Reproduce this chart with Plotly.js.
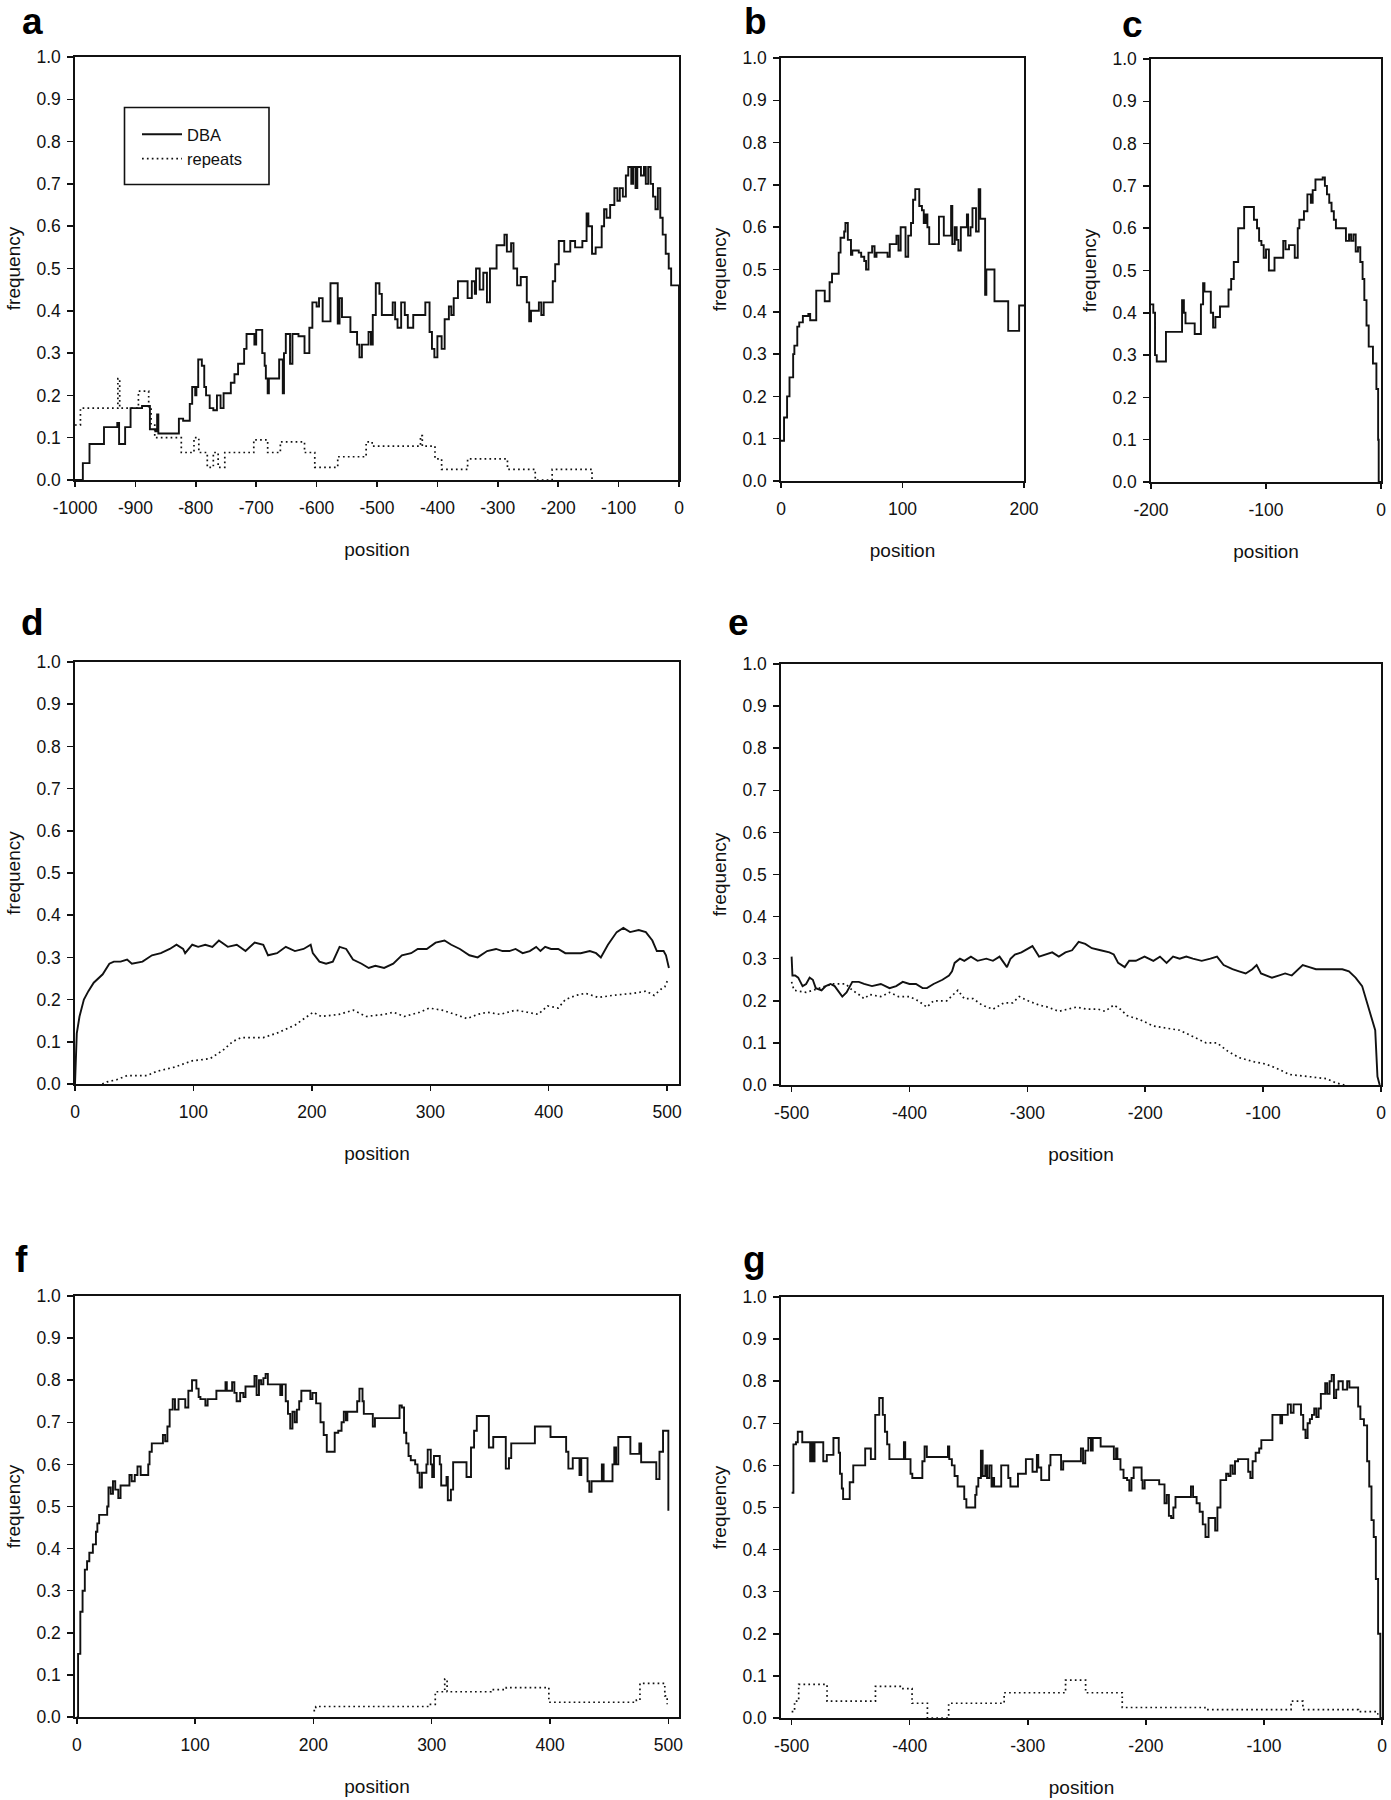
<!DOCTYPE html>
<html>
<head>
<meta charset="utf-8">
<script src="https://cdn.plot.ly/plotly-3.0.1.min.js"></script>
<style>
  html, body { margin: 0; padding: 0; background: #ffffff; }
  #chart { width: 1391px; height: 1800px; }
</style>
</head>
<body>
<div id="chart"></div>
<script>
// ---------------- DATA ----------------
// Each series: [position, frequency] pairs.

// Panel a: positions -1000..0
const aDBA = [[-1000,0],[-987,0.04],[-976,0.085],[-952,0.125],[-930,0.135],[-927,0.085],[-917,0.125],[-908,0.17],[-889,0.175],[-876,0.12],[-867,0.115],[-864,0.155],[-862,0.11],[-828,0.145],[-821,0.14],[-810,0.18],[-806,0.22],[-801,0.2],[-799,0.22],[-796,0.285],[-790,0.27],[-786,0.22],[-783,0.2],[-777,0.17],[-771,0.165],[-765,0.2],[-759,0.17],[-754,0.205],[-742,0.23],[-736,0.25],[-730,0.275],[-720,0.31],[-716,0.345],[-703,0.32],[-700,0.355],[-690,0.3],[-686,0.27],[-684,0.24],[-681,0.205],[-679,0.24],[-662,0.285],[-656,0.205],[-654,0.3],[-651,0.345],[-644,0.275],[-640,0.345],[-630,0.34],[-620,0.3],[-612,0.36],[-607,0.42],[-600,0.41],[-596,0.43],[-590,0.375],[-584,0.375],[-577,0.465],[-565,0.37],[-562,0.43],[-558,0.385],[-550,0.385],[-544,0.35],[-533,0.32],[-529,0.29],[-525,0.32],[-514,0.35],[-510,0.32],[-507,0.39],[-502,0.465],[-496,0.44],[-492,0.39],[-474,0.42],[-470,0.38],[-466,0.36],[-460,0.42],[-454,0.39],[-449,0.36],[-440,0.39],[-428,0.39],[-420,0.42],[-413,0.35],[-409,0.31],[-405,0.29],[-400,0.34],[-393,0.31],[-388,0.38],[-381,0.41],[-377,0.39],[-373,0.43],[-366,0.47],[-350,0.43],[-343,0.47],[-338,0.44],[-336,0.5],[-330,0.45],[-324,0.49],[-318,0.42],[-313,0.5],[-302,0.555],[-289,0.58],[-285,0.54],[-278,0.56],[-274,0.5],[-268,0.46],[-262,0.48],[-252,0.42],[-248,0.375],[-245,0.4],[-232,0.42],[-228,0.39],[-224,0.42],[-209,0.47],[-205,0.51],[-199,0.565],[-190,0.54],[-180,0.565],[-172,0.55],[-160,0.565],[-153,0.63],[-150,0.6],[-144,0.535],[-138,0.55],[-128,0.6],[-124,0.64],[-120,0.62],[-114,0.65],[-107,0.69],[-102,0.66],[-98,0.69],[-93,0.67],[-88,0.72],[-84,0.74],[-79,0.7],[-76,0.74],[-72,0.69],[-69,0.74],[-63,0.72],[-58,0.74],[-55,0.7],[-51,0.74],[-47,0.7],[-43,0.67],[-39,0.64],[-35,0.69],[-31,0.62],[-27,0.58],[-22,0.535],[-17,0.5],[-13,0.46],[-1,0.46],[0,0]];
const aRepeats = [[-1000,0.13],[-991,0.17],[-929,0.24],[-926,0.17],[-895,0.21],[-878,0.17],[-874,0.13],[-868,0.1],[-824,0.065],[-803,0.1],[-795,0.065],[-781,0.03],[-771,0.065],[-763,0.03],[-752,0.065],[-704,0.095],[-681,0.065],[-660,0.09],[-620,0.065],[-603,0.03],[-565,0.055],[-518,0.09],[-508,0.08],[-428,0.105],[-425,0.08],[-404,0.05],[-393,0.025],[-350,0.05],[-284,0.025],[-238,0],[-210,0.025],[-144,0]];

// Panel b: positions 0..200
const bDBA = [[0,0.095],[2.5,0.15],[5,0.2],[7,0.245],[10,0.3],[11,0.32],[13.4,0.365],[15,0.375],[18,0.39],[22.5,0.395],[24,0.38],[27,0.38],[29,0.45],[34,0.45],[36,0.425],[39,0.425],[40,0.47],[42,0.49],[47.5,0.54],[49,0.575],[52,0.59],[53,0.61],[55,0.57],[57.6,0.535],[58.7,0.545],[64,0.54],[66,0.53],[68.5,0.52],[70,0.5],[72,0.54],[75,0.555],[77,0.53],[78.6,0.54],[87.7,0.53],[89.5,0.56],[95,0.58],[96.7,0.545],[98.5,0.6],[101.5,0.6],[102.5,0.53],[104.7,0.58],[107,0.61],[108.7,0.665],[110.5,0.69],[113.8,0.65],[116,0.64],[117.5,0.61],[119,0.63],[120.5,0.6],[122,0.56],[130,0.625],[134,0.58],[140,0.65],[141,0.56],[143,0.6],[144.6,0.57],[146,0.545],[148,0.6],[153,0.63],[154,0.58],[156,0.6],[157.6,0.645],[160.5,0.59],[162.7,0.69],[164,0.62],[168,0.44],[169,0.5],[175.7,0.425],[187,0.355],[196,0.415],[200,0.415]];

// Panel c: positions -200..0
const cDBA = [[-200,0.42],[-198,0.4],[-196.5,0.3],[-195,0.285],[-187,0.355],[-173,0.43],[-171.4,0.4],[-170,0.375],[-162,0.35],[-156.6,0.42],[-154.7,0.47],[-153.5,0.45],[-148,0.4],[-146,0.365],[-144,0.39],[-140,0.415],[-132.6,0.455],[-130.3,0.48],[-128,0.52],[-124.2,0.6],[-119,0.65],[-110.5,0.62],[-107.8,0.6],[-106,0.57],[-104,0.56],[-102,0.53],[-100,0.55],[-97.5,0.5],[-92.6,0.53],[-85,0.57],[-83,0.55],[-80,0.56],[-75,0.53],[-72.4,0.6],[-71,0.62],[-67,0.64],[-64,0.68],[-61,0.66],[-59.4,0.69],[-57,0.715],[-50.7,0.72],[-48.8,0.7],[-47,0.68],[-45,0.66],[-43,0.64],[-41,0.62],[-39.2,0.6],[-30.5,0.57],[-27.8,0.585],[-26,0.57],[-24,0.585],[-22,0.545],[-20,0.555],[-18,0.52],[-16,0.48],[-14.5,0.43],[-12.6,0.37],[-10.7,0.32],[-7,0.28],[-4,0.22],[-2.5,0.1],[-2,0],[0,0]];

// Panel d: positions 0..500
const dDBA = [[0,0],[1.5,0.12],[3.8,0.16],[7.5,0.2],[11.3,0.22],[15.8,0.24],[23.4,0.26],[29,0.285],[32.8,0.29],[38.5,0.29],[44,0.295],[48,0.285],[57,0.29],[65,0.305],[72.5,0.31],[80,0.32],[85.7,0.33],[91.3,0.32],[93,0.31],[99,0.33],[104,0.325],[110,0.33],[116,0.325],[121.5,0.34],[129,0.325],[136.6,0.33],[144,0.315],[151.7,0.335],[159,0.33],[163,0.305],[170.6,0.31],[178,0.325],[185.7,0.315],[193,0.32],[199,0.33],[200.8,0.31],[206.4,0.29],[212,0.285],[217.7,0.29],[223.4,0.325],[229,0.32],[234.7,0.295],[242,0.285],[248,0.275],[253.6,0.28],[261,0.275],[268.7,0.285],[276,0.305],[283.8,0.31],[289.4,0.32],[297,0.32],[304.5,0.335],[312,0.34],[317.7,0.33],[325,0.32],[333,0.305],[340,0.3],[348,0.315],[355.5,0.32],[361,0.315],[366.8,0.315],[372,0.32],[378,0.31],[384,0.315],[389.4,0.325],[393,0.315],[397,0.325],[402,0.32],[408,0.32],[414,0.31],[419.6,0.31],[427,0.31],[434.7,0.315],[440,0.31],[444,0.3],[450,0.33],[457.4,0.36],[463,0.37],[468.7,0.36],[476,0.365],[482,0.36],[487.5,0.34],[491.3,0.315],[497,0.315],[499,0.305],[501.5,0.275]];
const dRepeats = [[23,0],[27,0.005],[35,0.01],[44,0.02],[61,0.02],[69,0.03],[84,0.04],[99,0.055],[114,0.06],[125,0.08],[133,0.1],[140,0.11],[159,0.11],[170,0.12],[186,0.14],[201,0.17],[208,0.16],[223,0.165],[235,0.175],[246,0.16],[261,0.165],[269,0.17],[278,0.16],[291,0.17],[299,0.18],[310,0.175],[321,0.165],[331,0.155],[340,0.165],[348,0.17],[359,0.165],[372,0.175],[382,0.17],[391,0.165],[399,0.185],[408,0.18],[414,0.2],[423,0.21],[431,0.215],[442,0.205],[454,0.21],[472,0.215],[482,0.22],[489,0.21],[495,0.225],[498,0.23],[501,0.25]];

// Panel e: positions -500..0
const eDBA = [[-500,0.305],[-499.3,0.26],[-497,0.26],[-494.4,0.255],[-490.7,0.235],[-487.7,0.24],[-484.7,0.255],[-482,0.25],[-479.5,0.23],[-474.6,0.225],[-471,0.235],[-467,0.24],[-463.5,0.235],[-459.7,0.22],[-457,0.21],[-453.4,0.22],[-448.5,0.245],[-443,0.245],[-438.5,0.24],[-431.8,0.235],[-424.3,0.24],[-416.9,0.23],[-411.3,0.235],[-405.7,0.245],[-400,0.24],[-394.5,0.24],[-388.9,0.23],[-385.2,0.23],[-379.6,0.24],[-372,0.25],[-366.5,0.26],[-363.9,0.27],[-361.7,0.29],[-357.2,0.3],[-353.5,0.295],[-347.9,0.305],[-342.3,0.295],[-334.8,0.3],[-329.2,0.295],[-323.6,0.305],[-319.9,0.29],[-317.3,0.28],[-314.3,0.3],[-310.6,0.31],[-305,0.315],[-299.4,0.325],[-295.7,0.33],[-290.1,0.305],[-284.5,0.31],[-278.9,0.315],[-273.3,0.305],[-267.7,0.315],[-262.1,0.32],[-256.5,0.34],[-250.9,0.335],[-245.3,0.325],[-237.9,0.32],[-230.4,0.315],[-226.7,0.31],[-223,0.29],[-217.4,0.28],[-213.6,0.295],[-208,0.295],[-200.6,0.305],[-193.1,0.295],[-187.5,0.305],[-181.9,0.29],[-176.4,0.305],[-170.8,0.3],[-165.2,0.305],[-159.6,0.3],[-152.1,0.295],[-144.7,0.3],[-139.1,0.305],[-133.5,0.285],[-126,0.275],[-120.4,0.27],[-114.8,0.265],[-109.2,0.275],[-105.5,0.285],[-101.8,0.265],[-96.2,0.26],[-92.5,0.255],[-86.9,0.26],[-81.3,0.265],[-75.7,0.26],[-70.1,0.275],[-66.4,0.285],[-60.8,0.28],[-55.2,0.275],[-47.7,0.275],[-40.3,0.275],[-32.8,0.275],[-27.2,0.27],[-21.6,0.255],[-16,0.235],[-12.3,0.2],[-8.6,0.17],[-4.9,0.13],[-3,0.02],[-1.1,0]];
const eRepeats = [[-500,0.245],[-498,0.225],[-487.7,0.22],[-476.5,0.23],[-465.3,0.24],[-454.1,0.24],[-448.5,0.225],[-443,0.215],[-438.5,0.205],[-433.6,0.215],[-424.3,0.21],[-416.9,0.22],[-409.4,0.21],[-400,0.21],[-392.6,0.2],[-385.2,0.185],[-379.6,0.2],[-368.4,0.2],[-359,0.225],[-353.5,0.205],[-346,0.205],[-338.6,0.19],[-329.2,0.18],[-320,0.195],[-312.5,0.195],[-306.9,0.21],[-299.4,0.2],[-290.1,0.19],[-282.6,0.185],[-273.3,0.175],[-265.8,0.18],[-258.4,0.185],[-249.1,0.18],[-239.7,0.18],[-234.2,0.175],[-226.7,0.19],[-221.1,0.18],[-215.5,0.165],[-204.3,0.155],[-193.1,0.14],[-181.9,0.135],[-170.8,0.13],[-159.6,0.115],[-148.4,0.1],[-139.1,0.1],[-129.8,0.08],[-120.4,0.065],[-107.4,0.055],[-98.1,0.05],[-88.7,0.04],[-77.6,0.025],[-62.6,0.02],[-45.9,0.015],[-38.4,0.005],[-31,0]];

// Panel f: positions 0..500
const fDBA = [[0,0],[1.1,0.15],[3,0.25],[4.9,0.3],[6.8,0.35],[8.7,0.37],[10.6,0.39],[13.6,0.41],[16.2,0.44],[17.4,0.46],[18.9,0.48],[25.7,0.5],[26.8,0.545],[28.7,0.53],[30.6,0.56],[32.5,0.54],[35.1,0.52],[37,0.55],[44.5,0.575],[46.4,0.56],[49,0.575],[51.3,0.595],[54,0.575],[60.4,0.6],[61.5,0.63],[63.4,0.65],[72.8,0.67],[74.7,0.655],[76.6,0.69],[78.5,0.73],[81.1,0.755],[83,0.73],[86,0.755],[91.7,0.735],[94.3,0.775],[97.4,0.8],[101.1,0.78],[103,0.76],[104.5,0.755],[108.7,0.74],[110.6,0.755],[118,0.775],[125.7,0.795],[126.8,0.775],[131.3,0.795],[133.2,0.77],[135.1,0.75],[138.1,0.77],[140.8,0.76],[142.6,0.785],[150.2,0.81],[152,0.765],[154,0.8],[155.8,0.79],[157.7,0.805],[159.6,0.815],[161.5,0.79],[172,0.765],[173.6,0.79],[176.6,0.75],[178.5,0.72],[180.4,0.685],[182.3,0.725],[184.2,0.7],[186,0.73],[188,0.75],[189.8,0.775],[197.4,0.755],[199.2,0.77],[202.3,0.745],[206,0.7],[208.7,0.67],[211.3,0.63],[218,0.675],[221,0.68],[223.8,0.7],[225.7,0.725],[227.5,0.705],[228.7,0.725],[237,0.75],[238.9,0.78],[241.5,0.75],[242.6,0.72],[250.2,0.69],[252,0.71],[272.8,0.74],[274.7,0.735],[276.6,0.675],[278.5,0.65],[280.4,0.62],[282.3,0.61],[286,0.6],[288,0.58],[289.8,0.545],[291.7,0.58],[295.5,0.6],[296.6,0.635],[299.2,0.6],[300.4,0.57],[301.9,0.62],[306.8,0.6],[308,0.55],[312.5,0.57],[313.6,0.515],[316.2,0.54],[318.1,0.605],[329.4,0.57],[333.2,0.64],[335.8,0.68],[338.1,0.715],[348.3,0.64],[352,0.665],[362.6,0.59],[365.3,0.615],[367.2,0.65],[387.2,0.69],[400.4,0.665],[413.6,0.63],[415.5,0.59],[419.2,0.615],[424.9,0.575],[426.4,0.615],[431.7,0.56],[433.2,0.535],[435.1,0.56],[443.8,0.6],[445.3,0.56],[452.8,0.6],[454.3,0.64],[455.8,0.6],[457.7,0.665],[467.9,0.625],[475.5,0.65],[477,0.605],[489.8,0.565],[492.5,0.63],[495.5,0.68],[500,0.49]];
const fRepeats = [[200,0.015],[202,0.025],[298,0.03],[303,0.06],[311,0.09],[313,0.06],[350,0.065],[363,0.07],[399,0.035],[473,0.04],[476,0.08],[497,0.05],[499,0.03]];

// Panel g: positions -500..0
const gDBA = [[-500,0.535],[-498.5,0.65],[-496.3,0.655],[-494.8,0.68],[-491,0.655],[-484.3,0.61],[-483.2,0.655],[-482,0.61],[-480.6,0.655],[-473.2,0.61],[-470.2,0.625],[-464.6,0.665],[-460.1,0.63],[-459,0.58],[-457.5,0.545],[-456.4,0.52],[-450.8,0.56],[-447.8,0.6],[-437.7,0.64],[-432.9,0.615],[-429.2,0.72],[-425.8,0.76],[-422.8,0.72],[-421,0.68],[-419.1,0.65],[-417.2,0.615],[-404.9,0.655],[-403.8,0.615],[-399.3,0.58],[-397.8,0.57],[-389.3,0.61],[-387.4,0.645],[-385.5,0.62],[-367.6,0.645],[-366.5,0.615],[-364.3,0.6],[-362,0.575],[-359.4,0.55],[-353.8,0.52],[-352,0.5],[-344.5,0.53],[-343.4,0.55],[-341.9,0.57],[-339.7,0.635],[-338.2,0.575],[-336,0.6],[-334.5,0.57],[-332.6,0.6],[-330.7,0.55],[-329.6,0.57],[-328.5,0.55],[-322.5,0.6],[-316.5,0.57],[-314.7,0.55],[-308.3,0.58],[-301.6,0.615],[-296,0.585],[-292.3,0.625],[-291.1,0.595],[-288.6,0.565],[-281.9,0.6],[-280.8,0.625],[-271.8,0.59],[-270,0.61],[-255,0.64],[-253.2,0.605],[-251.3,0.635],[-248.7,0.665],[-246.5,0.635],[-245,0.665],[-238.3,0.645],[-227.1,0.615],[-225.2,0.64],[-224.1,0.615],[-221.5,0.59],[-218.9,0.57],[-215.9,0.565],[-214,0.54],[-212.2,0.57],[-210.3,0.595],[-203.6,0.565],[-202.8,0.545],[-201,0.565],[-188.7,0.555],[-184.2,0.51],[-182.3,0.53],[-180.5,0.48],[-178.6,0.475],[-176.7,0.5],[-174.9,0.525],[-161.8,0.55],[-160,0.525],[-157,0.51],[-154.4,0.49],[-151.8,0.46],[-149.5,0.43],[-146.9,0.475],[-141.3,0.445],[-139.4,0.5],[-136.8,0.565],[-132,0.58],[-130.1,0.575],[-128.3,0.6],[-126.4,0.58],[-124.5,0.61],[-121.9,0.615],[-113.3,0.585],[-111.5,0.57],[-109.6,0.61],[-107,0.63],[-104,0.64],[-102.2,0.66],[-92.8,0.72],[-86.1,0.7],[-84.6,0.72],[-79.8,0.745],[-77.2,0.725],[-74.9,0.745],[-68.6,0.72],[-66.7,0.685],[-64.8,0.665],[-63,0.7],[-61.1,0.71],[-59.3,0.72],[-57.4,0.735],[-55.6,0.715],[-53.7,0.735],[-51.8,0.77],[-48.1,0.795],[-46.4,0.77],[-44.4,0.8],[-42.6,0.815],[-40.7,0.76],[-38.8,0.78],[-36.9,0.8],[-33.2,0.78],[-29.5,0.8],[-27.6,0.785],[-20.2,0.74],[-18.3,0.71],[-15.3,0.695],[-12.6,0.61],[-10.8,0.55],[-8.9,0.47],[-7,0.43],[-5.2,0.33],[-3.3,0.2],[-1.4,0],[0,0]];
const gRepeats = [[-500,0.015],[-497.5,0.04],[-494,0.08],[-470,0.04],[-429,0.075],[-408,0.07],[-398,0.035],[-385,0],[-367,0.035],[-320,0.06],[-268,0.09],[-251,0.06],[-220,0.025],[-150,0.02],[-77,0.04],[-67,0.02],[-20,0.015],[-5,0.01],[-3,0.01]];

// Tick labels
const yTicks = [0,0.1,0.2,0.3,0.4,0.5,0.6,0.7,0.8,0.9,1.0];
const ticksA = [-1000,-900,-800,-700,-600,-500,-400,-300,-200,-100,0];
const ticksB = [0,100,200];
const ticksC = [-200,-100,0];
const ticksPos500 = [0,100,200,300,400,500];
const ticksNeg500 = [-500,-400,-300,-200,-100,0];
const panelLetters = ['a','b','c','d','e','f','g'];
const seriesNames = ['DBA','repeats'];
const xTitle = 'position';
const yTitle = 'frequency';

// ---------------- LAYOUT ----------------
const W = 1391, H = 1800;
const FONT = 'Liberation Sans, Arial, Helvetica, sans-serif';
const INK = '#111111';
const px = v => v / W;          // horizontal pixel -> paper
const py = v => 1 - v / H;      // vertical pixel (from top) -> paper

const col = (arr, i) => arr.map(p => p[i]);

// panel boxes in pixels: [left, right, top, bottom], x range, ticks
const panels = [
  {box:[75, 679, 57, 480],    xr:[-1000, 0],  ticks:ticksA,      shape:'hv'},
  {box:[781, 1024, 58, 481],  xr:[0, 200],    ticks:ticksB,      shape:'hv'},
  {box:[1151, 1381, 59, 482], xr:[-200, 0],   ticks:ticksC,      shape:'hv'},
  {box:[75, 679, 662, 1084],  xr:[0, 510],    ticks:ticksPos500, shape:'linear'},
  {box:[781, 1381, 664, 1085],xr:[-509, 0],   ticks:ticksNeg500, shape:'linear'},
  {box:[75, 679, 1296, 1717], xr:[-1.5, 509], ticks:ticksPos500, shape:'hv'},
  {box:[781, 1382, 1297, 1718],xr:[-509, 0],  ticks:ticksNeg500, shape:'hv'}
];
const panelSeries = [
  [aDBA, aRepeats], [bDBA, null], [cDBA, null],
  [dDBA, dRepeats], [eDBA, eRepeats], [fDBA, fRepeats], [gDBA, gRepeats]
];
// panel letter positions: [left px, baseline px]; top row anchored to top edge
const letterPos = [[21,null],[743,null],[1121,3],[20,635],[727,635],[14,1272],[742,1272]];

const axisCommon = {
  showline: true, linecolor: INK, linewidth: 1.7, mirror: true,
  ticks: 'outside', ticklen: 6, tickwidth: 1.5, tickcolor: INK,
  showgrid: false, zeroline: false, fixedrange: true,
  tickfont: {family: FONT, size: 17.5, color: INK}
};

const traces = [];
const layout = {
  width: W, height: H,
  margin: {l: 0, r: 0, t: 0, b: 0},
  paper_bgcolor: '#ffffff', plot_bgcolor: '#ffffff',
  showlegend: true,
  hovermode: false,
  font: {family: FONT, color: INK},
  legend: {
    x: px(137), y: py(117), xanchor: 'left', yanchor: 'top',
    bgcolor: 'rgba(0,0,0,0)', borderwidth: 0,
    font: {family: FONT, size: 16.5, color: INK},
    itemwidth: 40, tracegroupgap: 0
  },
  shapes: [
    {type: 'rect', xref: 'paper', yref: 'paper',
     x0: px(124.5), x1: px(269), y0: py(184.5), y1: py(107.5),
     line: {color: INK, width: 1.6}, fillcolor: 'rgba(0,0,0,0)'}
  ],
  annotations: []
};

panels.forEach((p, i) => {
  const n = i === 0 ? '' : String(i + 1);
  const [l, r, t, b] = p.box;
  layout['xaxis' + n] = Object.assign({}, axisCommon, {
    domain: [px(l), px(r)], range: p.xr, anchor: 'y' + n,
    tickmode: 'array', tickvals: p.ticks, ticktext: p.ticks.map(String),
    ticklen: 5, ticklabelstandoff: 6,
    title: {text: xTitle, font: {family: FONT, size: 19, color: INK}, standoff: 26}
  });
  layout['yaxis' + n] = Object.assign({}, axisCommon, {
    domain: [py(b), py(t)], range: [0, 1], anchor: 'x' + n,
    tickmode: 'array', tickvals: yTicks, ticktext: yTicks.map(v => v.toFixed(1)),
    ticklabelstandoff: 3,
    title: {text: yTitle, font: {family: FONT, size: 19, color: INK}, standoff: 11}
  });
  const [dba, rep] = panelSeries[i];
  traces.push({
    type: 'scatter', mode: 'lines', name: seriesNames[0],
    x: col(dba, 0), y: col(dba, 1), xaxis: 'x' + n, yaxis: 'y' + n,
    line: {color: INK, width: 1.9, shape: p.shape},
    showlegend: i === 0, legendrank: 1
  });
  if (rep) {
    traces.push({
      type: 'scatter', mode: 'lines', name: seriesNames[1],
      x: col(rep, 0), y: col(rep, 1), xaxis: 'x' + n, yaxis: 'y' + n,
      line: {color: INK, width: 1.7, dash: '1.7px,3.2px', shape: p.shape === 'linear' ? 'linear' : 'hv'},
      showlegend: i === 0, legendrank: 2
    });
  }
  const [lx, base] = letterPos[i];
  const ann = {
    xref: 'paper', yref: 'paper', x: px(lx),
    xanchor: 'left', showarrow: false, borderpad: 0,
    text: panelLetters[i],
    font: {family: FONT, size: 37, color: '#000000', weight: 'bold'}
  };
  if (i < 3) {
    ann.yanchor = 'top';
    ann.y = py(base === null ? 0 : base);
  } else {
    ann.yanchor = 'bottom';
    ann.y = py(base + 9);
  }
  layout.annotations.push(ann);
});

Plotly.newPlot('chart', traces, layout, {staticPlot: true, displayModeBar: false});
</script>
</body>
</html>
